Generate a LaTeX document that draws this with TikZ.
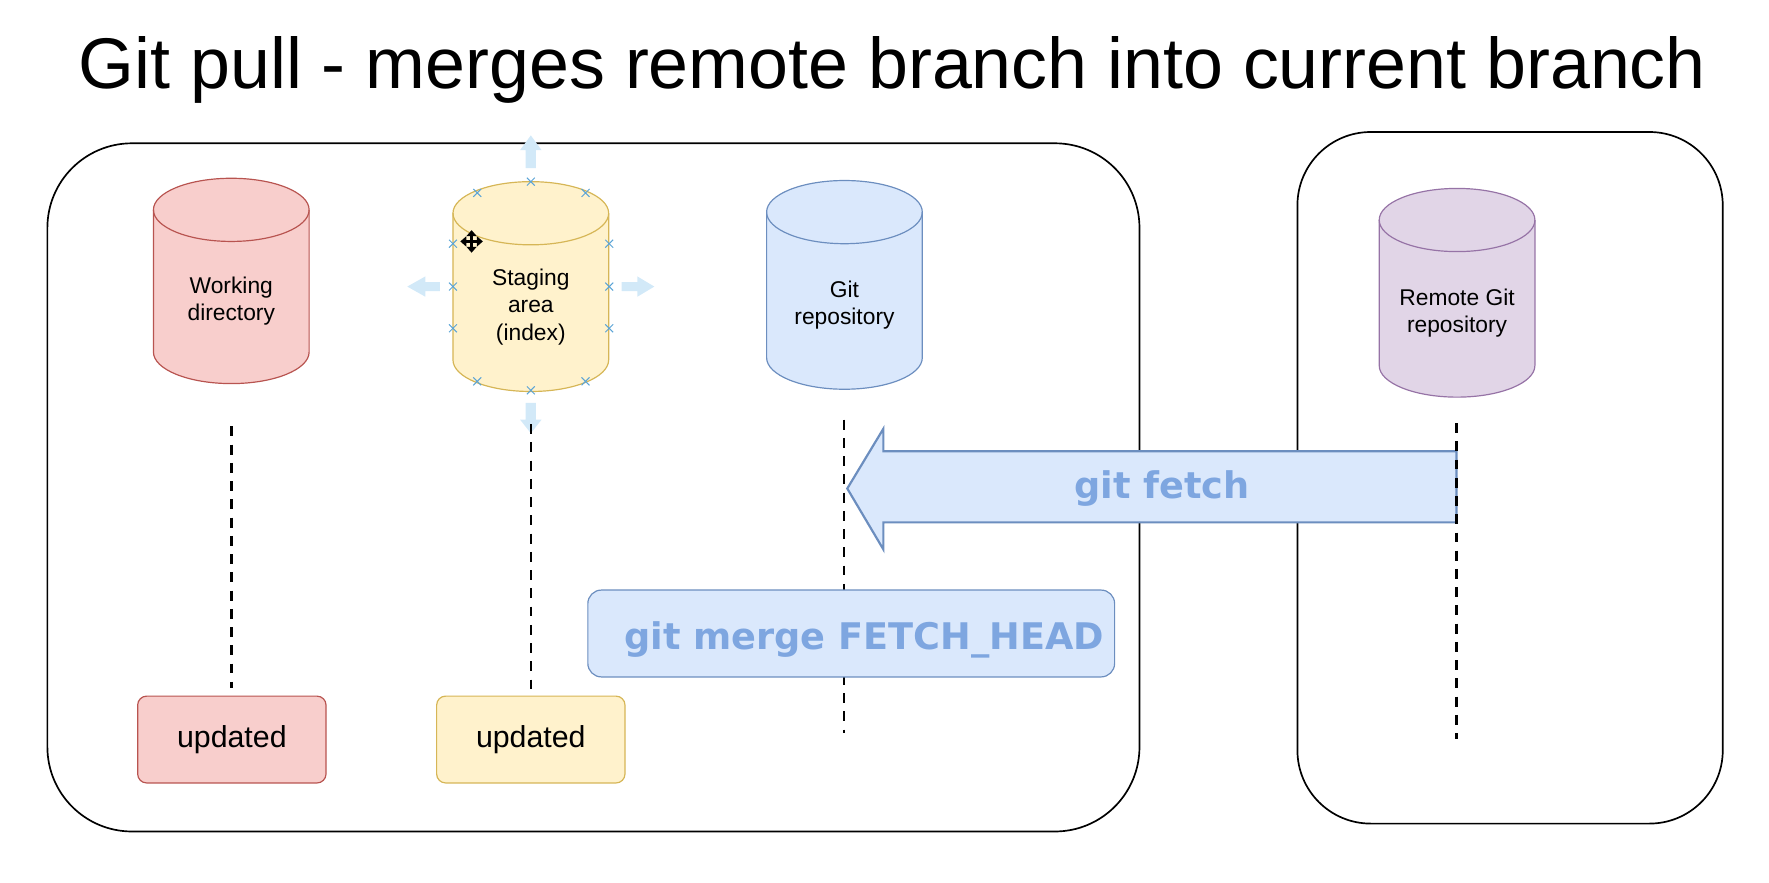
\documentclass[tikz,border=0pt]{standalone}
\usepackage{fontspec}
\setmainfont{Liberation Sans}
\newfontfamily\cmdfont{DejaVu Sans}
\usetikzlibrary{arrows.meta}
\definecolor{redfill}{HTML}{F8CECC}
\definecolor{redline}{HTML}{B85450}
\definecolor{yelfill}{HTML}{FFF2CC}
\definecolor{yelline}{HTML}{D6B656}
\definecolor{bluefill}{HTML}{DAE8FC}
\definecolor{blueline}{HTML}{6C8EBF}
\definecolor{purfill}{HTML}{E1D5E7}
\definecolor{purline}{HTML}{9673A6}
\definecolor{cmdtext}{HTML}{7EA6E0}
\definecolor{handlefill}{HTML}{D2E9F8}
\definecolor{handlex}{HTML}{5BA4D6}
\newcommand{\dbcyl}[7]{%
  \draw[fill=#5,draw=#6,line width=0.6pt] (#2-69,#3+28) -- (#2-69,#4-28)
    arc[start angle=180,end angle=0,x radius=69,y radius=28] -- (#2+69,#3+28)
    arc[start angle=0,end angle=-180,x radius=69,y radius=28] -- cycle;
  \draw[draw=#6,line width=0.6pt] (#2-69,#3+28) arc[start angle=180,end angle=0,x radius=69,y radius=28];
  \node[cyltext] (#1) at (#2,{(#3+#4)/2+18}) {#7};
}

\begin{document}
\begin{tikzpicture}[x=0.02cm,y=-0.02cm,
    frame/.style={line width=0.85pt,draw=black},
    cyltext/.style={align=center,font=\fontsize{11.5}{13.8}\selectfont},
    updbox/.style={rounded corners=0.16cm,line width=0.6pt,minimum width=3.34cm,minimum height=1.54cm,font=\fontsize{15.3}{18}\selectfont},
    lifeline/.style={line width=1.3pt,dash pattern=on 5pt off 4.2pt},
    cmd/.style={text=cmdtext,font=\cmdfont\bfseries\fontsize{18.5}{22}\selectfont},
    handle/.style={fill=handlefill},
    xmark/.style={draw=handlex,line width=0.5pt}]
  \useasboundingbox (0,0) rectangle (1568,782);
  \node (title) at (791,62) {\fontsize{36.2}{40}\selectfont Git pull - merges remote branch into current branch};
  \draw[frame,rounded corners=1.5cm] (42,127) rectangle (1010,737);
  \draw[frame,rounded corners=1.3cm] (1150,117) rectangle (1527,730);

  \dbcyl{workdir}{205}{158}{340}{redfill}{redline}{Working\\directory}
  \dbcyl{stage}{470.5}{161}{347}{yelfill}{yelline}{Staging\\area\\(index)}
  \dbcyl{gitrepo}{748.5}{160}{345}{bluefill}{blueline}{Git\\repository}
  \dbcyl{remoterepo}{1291.5}{167}{352}{purfill}{purline}{Remote Git\\repository}

  \fill[handle] (466,149) -- (466,133) -- (461,133) -- (470.5,120) -- (480,133) -- (475,133) -- (475,149) -- cycle;
  \fill[handle] (390,250) -- (377,250) -- (377,245) -- (361,254) -- (377,263) -- (377,258) -- (390,258) -- cycle;
  \fill[handle] (551,250) -- (565,250) -- (565,245) -- (580,254) -- (565,263) -- (565,258) -- (551,258) -- cycle;
  \fill[handle] (466,357) -- (466,372) -- (461,372) -- (470.5,384) -- (480,372) -- (475,372) -- (475,357) -- cycle;
  \foreach \p in {(470.5,161),(423,171),(519,171),(401.5,216),(401.5,254),(401.5,291),(540,216),(540,254),(540,291),(423,338),(470.5,346),(519,338)}
    \draw[xmark] \p +(-3.5,-3.5) -- +(3.5,3.5) +(-3.5,3.5) -- +(3.5,-3.5);
  \draw[line width=1.4pt,{Triangle[length=3pt,width=5pt]}-{Triangle[length=3pt,width=5pt]}] (408,214) -- (428,214);
  \draw[line width=1.4pt,{Triangle[length=3pt,width=5pt]}-{Triangle[length=3pt,width=5pt]}] (418,204) -- (418,224);

  \draw[fill=bluefill,draw=blueline,line width=1.1pt] (751,433) -- (783,380) -- (783,400) -- (1291,400) -- (1291,463) -- (783,463) -- (783,487) -- cycle;
  \node[cmd] (fetchtxt) at (1030,433) {git fetch};

  \coordinate (wdtop) at (205,378);
  \coordinate (wdbot) at (205,610);
  \coordinate (sttop) at (470.5,376);
  \coordinate (stbot) at (470.5,614);
  \coordinate (grtop) at (748,372);
  \coordinate (grbot) at (748,650);
  \coordinate (rrtop) at (1291,375);
  \coordinate (rrbot) at (1291,655);
  \draw[lifeline] (wdtop) -- (wdbot);
  \draw[lifeline] (sttop) -- (stbot);
  \draw[lifeline] (grtop) -- (grbot);
  \draw[lifeline] (rrtop) -- (rrbot);

  \node[draw=blueline,fill=bluefill,rounded corners=0.24cm,line width=0.6pt,minimum width=9.34cm,minimum height=1.54cm] (merge) at (754.5,561.5) {};
  \node[cmd] (mergetxt) at (766,567) {git merge FETCH\_HEAD};

  \node[updbox,fill=redfill,draw=redline] (wdupd) at (205.5,655.5) {updated};
  \node[updbox,fill=yelfill,draw=yelline] (stupd) at (470.5,655.5) {updated};
\end{tikzpicture}
\end{document}
